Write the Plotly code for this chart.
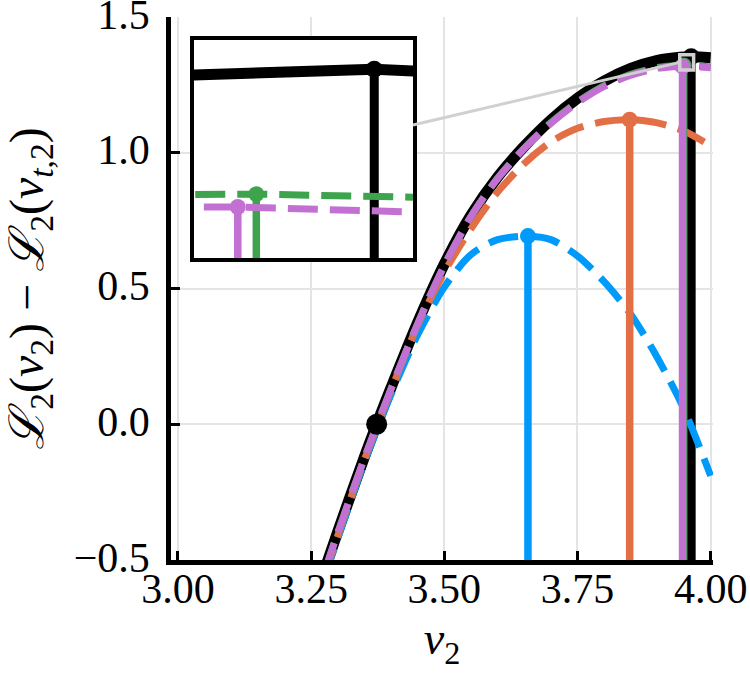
import plotly.graph_objects as go

# values
x_black = [3.25, 3.30, 3.35, 3.373, 3.40, 3.45, 3.50, 3.55, 3.60, 3.65, 3.70, 3.75, 3.80, 3.85,
           3.90, 3.942, 3.9634, 3.968, 4.00]
y_black = [-0.68, -0.395, -0.12, 0.0, 0.135, 0.375, 0.59, 0.77, 0.91, 1.0235, 1.1205, 1.2005, 1.264, 1.3105,
           1.3405, 1.352, 1.3535, 1.3535, 1.350]

x_blue = [3.25, 3.30, 3.35, 3.40, 3.45, 3.50, 3.55, 3.60, 3.657, 3.70, 3.75, 3.80, 3.85, 3.90, 3.95, 4.00]
y_blue = [-0.71, -0.42, -0.14, 0.11, 0.33, 0.505, 0.625, 0.68, 0.693, 0.68, 0.62, 0.525, 0.405, 0.245, 0.055, -0.19]

x_orange = [3.25, 3.30, 3.35, 3.40, 3.45, 3.50, 3.55, 3.60, 3.65, 3.70, 3.75, 3.80, 3.848, 3.90, 3.95, 4.00]
y_orange = [-0.71, -0.41, -0.13, 0.125, 0.365, 0.56, 0.72, 0.855, 0.96, 1.04, 1.09, 1.115, 1.122, 1.11, 1.08, 1.025]

x_green = [3.25, 3.30, 3.35, 3.40, 3.45, 3.50, 3.55, 3.60, 3.65, 3.70, 3.75, 3.80, 3.85, 3.90,
           3.942, 3.9494, 3.968, 4.00]
y_green = [-0.69, -0.40, -0.125, 0.13, 0.37, 0.585, 0.765, 0.906, 1.017, 1.111, 1.187, 1.247, 1.289, 1.314,
           1.3213, 1.3214, 1.3206, 1.316]

x_purple = [3.25, 3.30, 3.35, 3.40, 3.45, 3.50, 3.55, 3.60, 3.65, 3.70, 3.75, 3.80, 3.85, 3.90,
            3.942, 3.9472, 3.968, 4.00]
y_purple = [-0.69, -0.40, -0.125, 0.13, 0.37, 0.585, 0.765, 0.905, 1.0155, 1.1085, 1.1845, 1.244, 1.2855, 1.3105,
            1.3181, 1.3181, 1.3168, 1.313]

# maxima of each curve (stem + dot)
peak_x = {"black": 3.9634, "blue": 3.657, "orange": 3.848, "green": 3.9494, "purple": 3.9472}
peak_y = {"black": 1.3535, "blue": 0.693, "orange": 1.122, "green": 1.3214, "purple": 1.3181}

# true value, where the difference is zero
v_true = 3.373
l_true = 0.0

x_ticks = [3.00, 3.25, 3.50, 3.75, 4.00]
y_ticks = [-0.5, 0.0, 0.5, 1.0, 1.5]

# lens region shown in the inset
lens_x = [3.942, 3.968]
lens_y = [1.305, 1.361]

colors = {"black": "black", "blue": "#009AFA", "orange": "#E26F46",
          "green": "#3DA44D", "purple": "#C271D2"}

series = [
    ("black", x_black, y_black),
    ("blue", x_blue, y_blue),
    ("orange", x_orange, y_orange),
    ("green", x_green, y_green),
    ("purple", x_purple, y_purple),
]

x_range = [2.9869, 4.0044]
y_range = [-0.5, 1.5]
FONT = "Liberation Serif"
DASH = "30px,12px"

fig = go.Figure()


def add_series(name, xs, ys, xa, ya, ybottom, shape):
    c = colors[name]
    if name == "black":
        lw, slw, ms = 11, 9, 17
        dash = "solid"
    else:
        lw, slw, ms = 7, 7.5, 16
        dash = DASH
    fig.add_trace(go.Scatter(x=xs, y=ys, mode="lines", xaxis=xa, yaxis=ya,
                             line=dict(color=c, width=lw, dash=dash, shape=shape, smoothing=0.8),
                             hoverinfo="skip"))
    px, py = peak_x[name], peak_y[name]
    fig.add_trace(go.Scatter(x=[px, px], y=[ybottom, py], mode="lines", xaxis=xa, yaxis=ya,
                             line=dict(color=c, width=slw), hoverinfo="skip"))
    fig.add_trace(go.Scatter(x=[px], y=[py], mode="markers", xaxis=xa, yaxis=ya,
                             marker=dict(color=c, size=ms, line=dict(width=0))))


# main panel
for name, xs, ys in series:
    add_series(name, xs, ys, "x", "y", y_range[0] - 0.2, "spline")

fig.add_trace(go.Scatter(x=[v_true], y=[l_true], mode="markers",
                         marker=dict(color="black", size=21, line=dict(width=0))))

# inset panel
for name, xs, ys in series:
    add_series(name, xs, ys, "x2", "y2", lens_y[0] - 0.01, "linear")

# lens box and connector
fig.add_shape(type="rect", xref="x", yref="y", x0=lens_x[0], x1=lens_x[1], y0=lens_y[0], y1=lens_y[1],
              line=dict(color="#d0d0d0", width=3.5), layer="above")
fig.add_shape(type="line", xref="x", yref="y", x0=3.4412, y0=1.1022,
              x1=lens_x[0], y1=(lens_y[0] + lens_y[1]) / 2,
              line=dict(color="#d0d0d0", width=3), layer="above")

axis_common = dict(showgrid=True, gridcolor="#e4e4e4", gridwidth=1.5, zeroline=False,
                   showline=True, linecolor="black", linewidth=4.5, automargin=False,
                   ticks="inside", ticklen=9, tickwidth=2.5, tickcolor="black",
                   ticklabeloverflow="allow",
                   tickfont=dict(family=FONT, size=42, color="black"))

fig.update_layout(
    template="none",
    width=750, height=675,
    margin=dict(l=171, r=37, t=17, b=115),
    paper_bgcolor="white", plot_bgcolor="white",
    showlegend=False,
    font=dict(family=FONT, color="black"),
    xaxis=dict(range=x_range, tickvals=x_ticks, tickformat=".2f", ticklabelstandoff=-12,
               title=dict(text="<i>v</i><sub>2</sub>", font=dict(size=46), standoff=12),
               **axis_common),
    yaxis=dict(range=y_range, tickvals=y_ticks, tickformat=".1f", ticklabelstandoff=8,
               ticklabelshift=-3,
               title=dict(text="<i>ℒ</i><sub>2</sub>(<i>v</i><sub>2</sub>) − "
                               "<i>ℒ</i><sub>2</sub>(<i>v</i><sub><i>t</i>,2</sub>)",
                          font=dict(size=48), standoff=57),
               **axis_common),
    xaxis2=dict(domain=[0.0424, 0.4465], anchor="y2", range=lens_x, automargin=False,
                showgrid=False, zeroline=False, showticklabels=False, ticks="",
                showline=True, mirror=True, linecolor="black", linewidth=3.5),
    yaxis2=dict(domain=[0.5562, 0.9576], anchor="x2", range=lens_y, automargin=False,
                showgrid=False, zeroline=False, showticklabels=False, ticks="",
                showline=True, mirror=True, linecolor="black", linewidth=3.5),
)

# drop the default page margin so the figure fills the window; no modebar
fig.write_html("out.html", config={"displayModeBar": False},
               post_script="document.body.style.margin = '0';")
